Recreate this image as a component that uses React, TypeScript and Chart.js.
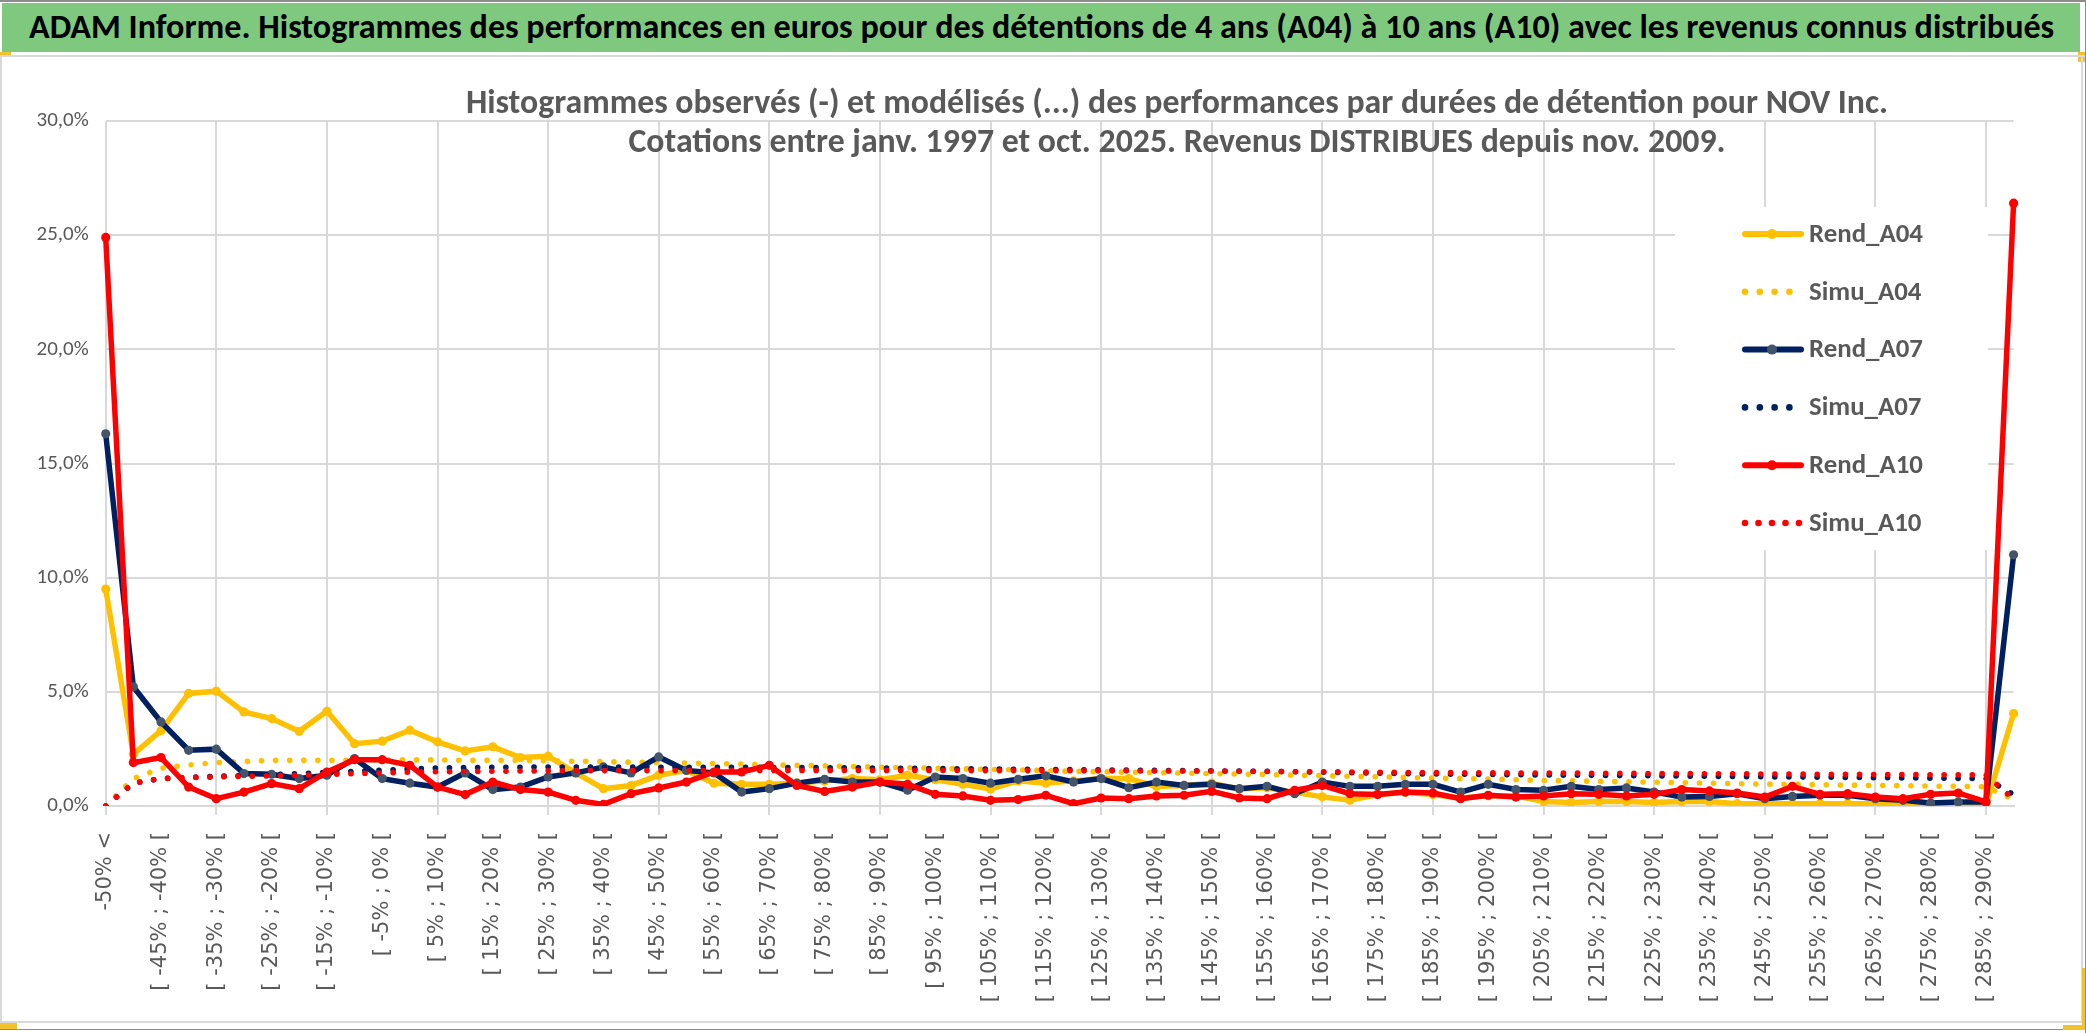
import React, { useEffect, useRef, useMemo } from 'react';
import { Chart, registerables } from 'chart.js';

Chart.register(...registerables);

const CATEGORIES = [
  '-50% <',
  '[ -50% ; -45% [', '[ -45% ; -40% [', '[ -40% ; -35% [', '[ -35% ; -30% [', '[ -30% ; -25% [',
  '[ -25% ; -20% [', '[ -20% ; -15% [', '[ -15% ; -10% [', '[ -10% ; -5% [', '[ -5% ; 0% [',
  '[ 0% ; 5% [', '[ 5% ; 10% [', '[ 10% ; 15% [', '[ 15% ; 20% [', '[ 20% ; 25% [',
  '[ 25% ; 30% [', '[ 30% ; 35% [', '[ 35% ; 40% [', '[ 40% ; 45% [', '[ 45% ; 50% [',
  '[ 50% ; 55% [', '[ 55% ; 60% [', '[ 60% ; 65% [', '[ 65% ; 70% [', '[ 70% ; 75% [',
  '[ 75% ; 80% [', '[ 80% ; 85% [', '[ 85% ; 90% [', '[ 90% ; 95% [', '[ 95% ; 100% [',
  '[ 100% ; 105% [', '[ 105% ; 110% [', '[ 110% ; 115% [', '[ 115% ; 120% [', '[ 120% ; 125% [',
  '[ 125% ; 130% [', '[ 130% ; 135% [', '[ 135% ; 140% [', '[ 140% ; 145% [', '[ 145% ; 150% [',
  '[ 150% ; 155% [', '[ 155% ; 160% [', '[ 160% ; 165% [', '[ 165% ; 170% [', '[ 170% ; 175% [',
  '[ 175% ; 180% [', '[ 180% ; 185% [', '[ 185% ; 190% [', '[ 190% ; 195% [', '[ 195% ; 200% [',
  '[ 200% ; 205% [', '[ 205% ; 210% [', '[ 210% ; 215% [', '[ 215% ; 220% [', '[ 220% ; 225% [',
  '[ 225% ; 230% [', '[ 230% ; 235% [', '[ 235% ; 240% [', '[ 240% ; 245% [', '[ 245% ; 250% [',
  '[ 250% ; 255% [', '[ 255% ; 260% [', '[ 260% ; 265% [', '[ 265% ; 270% [', '[ 270% ; 275% [',
  '[ 275% ; 280% [', '[ 280% ; 285% [', '[ 285% ; 290% [', '> 290%',
];

const REND_A04 = [
  9.5, 2.27, 3.3, 4.93, 5.03, 4.12, 3.83, 3.27, 4.15, 2.73,
  2.84, 3.32, 2.81, 2.41, 2.59, 2.12, 2.18, 1.45, 0.76, 0.9,
  1.35, 1.56, 1.0, 0.95, 0.95, 1.0, 1.1, 1.2, 1.15, 1.35,
  1.15, 0.95, 0.75, 1.1, 1.0, 1.1, 1.2, 1.2, 0.85, 0.9,
  1.0, 0.75, 0.8, 0.6, 0.4, 0.25, 0.5, 0.6, 0.5, 0.35,
  0.45, 0.45, 0.2, 0.15, 0.2, 0.2, 0.15, 0.2, 0.2, 0.1,
  0.1, 0.1, 0.1, 0.1, 0.1, 0.05, 0.1, 0.05, 0.03, 4.05,
];

const SIMU_A04 = [
  0.0, 1.2, 1.65, 1.8, 1.9, 1.95, 2.0, 2.0, 2.0, 2.0,
  2.02, 2.02, 2.02, 2.0, 2.0, 2.0, 1.98, 1.96, 1.94, 1.92,
  1.9, 1.88, 1.86, 1.84, 1.8, 1.78, 1.76, 1.73, 1.7, 1.68,
  1.65, 1.63, 1.6, 1.58, 1.55, 1.52, 1.5, 1.48, 1.46, 1.44,
  1.42, 1.4, 1.38, 1.35, 1.33, 1.3, 1.28, 1.25, 1.22, 1.2,
  1.18, 1.15, 1.12, 1.1, 1.08, 1.06, 1.04, 1.02, 1.0, 0.98,
  0.96, 0.95, 0.93, 0.92, 0.9, 0.89, 0.87, 0.86, 0.84, 0.3,
];

const REND_A07 = [
  16.3, 5.22, 3.68, 2.44, 2.49, 1.42, 1.39, 1.2, 1.35, 2.08,
  1.2, 1.0, 0.83, 1.45, 0.72, 0.83, 1.27, 1.45, 1.71, 1.45,
  2.15, 1.56, 1.45, 0.61, 0.76, 1.0, 1.17, 1.05, 1.05, 0.69,
  1.27, 1.2, 1.0, 1.17, 1.32, 1.05, 1.2, 0.8, 1.05, 0.9,
  0.95, 0.76, 0.86, 0.54, 1.05, 0.86, 0.86, 0.95, 0.95, 0.61,
  0.95, 0.72, 0.69, 0.86, 0.72, 0.79, 0.61, 0.39, 0.42, 0.54,
  0.32, 0.42, 0.47, 0.47, 0.32, 0.25, 0.13, 0.18, 0.18, 11.0,
];

const SIMU_A07 = [
  0.0, 1.0, 1.2, 1.25, 1.3, 1.33, 1.37, 1.42, 1.47, 1.52,
  1.57, 1.62, 1.66, 1.68, 1.7, 1.7, 1.71, 1.71, 1.71, 1.71,
  1.7, 1.7, 1.7, 1.69, 1.69, 1.68, 1.68, 1.67, 1.66, 1.65,
  1.64, 1.63, 1.62, 1.61, 1.6, 1.59, 1.58, 1.57, 1.56, 1.55,
  1.54, 1.53, 1.52, 1.5, 1.48, 1.46, 1.44, 1.42, 1.4, 1.39,
  1.38, 1.37, 1.36, 1.35, 1.34, 1.33, 1.32, 1.31, 1.3, 1.29,
  1.28, 1.27, 1.26, 1.25, 1.24, 1.23, 1.22, 1.21, 1.2, 0.5,
];

const REND_A10 = [
  24.9, 1.9, 2.12, 0.83, 0.32, 0.61, 0.98, 0.76, 1.49, 2.03,
  2.03, 1.78, 0.83, 0.5, 1.05, 0.72, 0.61, 0.25, 0.07, 0.54,
  0.79, 1.05, 1.49, 1.49, 1.78, 0.9, 0.64, 0.83, 1.05, 0.95,
  0.51, 0.44, 0.25, 0.28, 0.47, 0.1, 0.35, 0.32, 0.44, 0.47,
  0.64, 0.35, 0.32, 0.69, 0.9, 0.54, 0.5, 0.61, 0.57, 0.32,
  0.47, 0.39, 0.44, 0.54, 0.51, 0.44, 0.51, 0.72, 0.66, 0.57,
  0.39, 0.86, 0.51, 0.54, 0.39, 0.32, 0.51, 0.57, 0.18, 26.4,
];

const SIMU_A10 = [
  0.0, 1.0, 1.2, 1.25, 1.27, 1.3, 1.32, 1.35, 1.38, 1.42,
  1.45, 1.48, 1.5, 1.51, 1.52, 1.53, 1.54, 1.55, 1.55, 1.55,
  1.55, 1.55, 1.56, 1.56, 1.56, 1.56, 1.56, 1.56, 1.56, 1.56,
  1.56, 1.55, 1.55, 1.55, 1.55, 1.54, 1.54, 1.54, 1.53, 1.53,
  1.53, 1.52, 1.51, 1.5, 1.5, 1.49, 1.48, 1.47, 1.46, 1.46,
  1.45, 1.45, 1.44, 1.44, 1.43, 1.43, 1.42, 1.42, 1.41, 1.41,
  1.4, 1.4, 1.39, 1.39, 1.38, 1.38, 1.37, 1.37, 1.36, 0.3,
];

const Y_TICKS = [0, 5, 10, 15, 20, 25, 30];

const HEADER_TEXT =
  'ADAM Informe. Histogrammes des performances en euros pour des détentions de 4 ans (A04) à 10 ans (A10) avec les revenus connus distribués';
const TITLE_LINES = [
  'Histogrammes observés (-) et modélisés (...) des performances par durées de détention pour NOV Inc.',
  'Cotations entre janv. 1997 et oct. 2025. Revenus DISTRIBUES depuis nov. 2009.',
];

const SERIES_NAMES = ['Rend_A04', 'Simu_A04', 'Rend_A07', 'Simu_A07', 'Rend_A10', 'Simu_A10'];

const YELLOW = '#FFC000';
const NAVY = '#002060';
const NAVY_MARK = '#44546A';
const RED = '#FF0000';
const TEXT_GRAY = '#595959';
const GRID = '#D9D9D9';
const NARROW = "'Liberation Sans Narrow', Carlito, 'DejaVu Sans Condensed', 'Open Sans', sans-serif";

function fitSize(ctx: CanvasRenderingContext2D, text: string, weight: string, family: string, target: number) {
  ctx.font = `${weight} 100px ${family}`;
  const w = ctx.measureText(text).width;
  return (100 * target) / w;
}

const titlePlugin = {
  id: 'customTitle',
  afterDraw(chart: any) {
    const ctx = chart.ctx as CanvasRenderingContext2D;
    ctx.save();
    const size = fitSize(ctx, TITLE_LINES[0], 'bold', NARROW, 1423);
    ctx.font = `bold ${size}px ${NARROW}`;
    ctx.fillStyle = TEXT_GRAY;
    ctx.textAlign = 'center';
    ctx.textBaseline = 'middle';
    ctx.fillText(TITLE_LINES[0], 1177, 47);
    ctx.fillText(TITLE_LINES[1], 1177, 86);
    ctx.restore();
  },
};

const legendPlugin = {
  id: 'customLegend',
  afterDraw(chart: any) {
    const ctx = chart.ctx as CanvasRenderingContext2D;
    ctx.save();
    ctx.fillStyle = '#ffffff';
    ctx.fillRect(1675, 149, 313, 343);
    const size = fitSize(ctx, 'Rend_A04', 'bold', NARROW, 114);
    const colors = [YELLOW, YELLOW, NAVY, NAVY, RED, RED];
    const marks = [YELLOW, YELLOW, NAVY_MARK, NAVY, RED, RED];
    SERIES_NAMES.forEach((name, i) => {
      const y = 176 + i * 57.8;
      if (i % 2 === 0) {
        ctx.strokeStyle = colors[i];
        ctx.lineWidth = 6;
        ctx.lineCap = 'round';
        ctx.beginPath();
        ctx.moveTo(1745, y);
        ctx.lineTo(1801, y);
        ctx.stroke();
        ctx.fillStyle = marks[i];
        ctx.beginPath();
        ctx.arc(1772, y, 5, 0, Math.PI * 2);
        ctx.fill();
      } else {
        ctx.fillStyle = colors[i];
        const n = i === 5 ? 5 : 4;
        const step = i === 5 ? 13.5 : 14.8;
        for (let k = 0; k < n; k++) {
          ctx.beginPath();
          ctx.arc(1745 + k * step, y, 3.3, 0, Math.PI * 2);
          ctx.fill();
        }
      }
      ctx.font = `bold ${size}px ${NARROW}`;
      ctx.fillStyle = TEXT_GRAY;
      ctx.textAlign = 'left';
      ctx.textBaseline = 'middle';
      ctx.fillText(name, 1809, y + 1);
    });
    ctx.restore();
  },
};

function rendDataset(label: string, data: number[], color: string, mark: string, order: number) {
  return {
    label,
    data,
    borderColor: color,
    backgroundColor: mark,
    borderWidth: 5.5,
    pointRadius: 4.6,
    pointHoverRadius: 4.6,
    pointBackgroundColor: mark,
    pointBorderWidth: 0,
    pointBorderColor: mark,
    tension: 0,
    order,
  };
}

function simuDataset(label: string, data: number[], color: string, order: number) {
  return {
    label,
    data,
    borderColor: color,
    backgroundColor: color,
    borderWidth: 5.6,
    borderDash: [0.1, 14],
    borderCapStyle: 'round',
    pointRadius: 0,
    pointHoverRadius: 0,
    tension: 0,
    order,
  };
}

function ChartCanvas() {
  const ref = useRef<HTMLCanvasElement | null>(null);
  useEffect(() => {
    if (!ref.current) return;
    const chart = new Chart(ref.current, {
      type: 'line',
      data: {
        labels: CATEGORIES,
        datasets: [
          rendDataset(SERIES_NAMES[0], REND_A04, YELLOW, YELLOW, 5),
          simuDataset(SERIES_NAMES[1], SIMU_A04, YELLOW, 4),
          rendDataset(SERIES_NAMES[2], REND_A07, NAVY, NAVY_MARK, 3),
          simuDataset(SERIES_NAMES[3], SIMU_A07, NAVY, 2),
          rendDataset(SERIES_NAMES[4], REND_A10, RED, RED, 1),
          simuDataset(SERIES_NAMES[5], SIMU_A10, RED, 0),
        ] as any,
      },
      options: {
        animation: false,
        responsive: false,
        maintainAspectRatio: false,
        layout: { padding: { top: 63, left: 15.7, right: 72.4, bottom: 0 } },
        plugins: {
          legend: { display: false },
          title: { display: false },
          tooltip: { enabled: false },
        },
        events: [],
        scales: {
          x: {
            type: 'category',
            offset: false,
            grid: {
              color: (c: any) => (c.index % 4 === 0 ? GRID : 'rgba(0,0,0,0)'),
              lineWidth: 2,
              drawTicks: true,
              tickLength: 9,
            },
            border: { color: GRID, width: 2 },
            ticks: {
              autoSkip: false,
              maxRotation: 90,
              minRotation: 90,
              padding: 17,
              color: TEXT_GRAY,
              font: { family: "'DejaVu Sans'", size: 21 },
              callback: (_v: any, i: number) => (i % 2 === 0 ? CATEGORIES[i] : ''),
            },
            afterFit: (s: any) => {
              s.height = 216;
            },
          },
          y: {
            type: 'linear',
            min: Y_TICKS[0],
            max: Y_TICKS[Y_TICKS.length - 1],
            grid: { color: GRID, lineWidth: 2, drawTicks: false },
            border: { display: false },
            ticks: {
              stepSize: Y_TICKS[1] - Y_TICKS[0],
              padding: 17,
              color: TEXT_GRAY,
              font: { family: NARROW, size: 21 },
              callback: (v: any) => Number(v).toFixed(1).replace('.', ',') + '%',
            },
            afterFit: (s: any) => {
              s.width = 90;
            },
          },
        },
      } as any,
      plugins: [titlePlugin, legendPlugin],
    });
    return () => chart.destroy();
  }, []);
  return (
    <canvas
      ref={ref}
      width={2086}
      height={964}
      style={{ position: 'absolute', left: 0, top: 58, width: 2086, height: 964 }}
    />
  );
}

export default function App() {
  const headerSize = useMemo(() => {
    const c = document.createElement('canvas');
    const ctx = c.getContext('2d');
    if (!ctx) return 31;
    return fitSize(ctx, HEADER_TEXT, 'bold', NARROW, 2026);
  }, []);
  return (
    <div
      style={{
        position: 'fixed',
        left: 0,
        top: 0,
        width: 2086,
        height: 1033,
        background: '#ffffff',
        overflow: 'hidden',
      }}
    >
      <div style={{ position: 'absolute', left: 0, top: 0, width: 2086, height: 2, background: '#8c8c8c' }} />
      <div
        style={{
          position: 'absolute',
          left: 2,
          top: 3,
          width: 2078,
          height: 49,
          background: '#7FC97F',
          display: 'flex',
          alignItems: 'center',
        }}
      >
        <span
          style={{
            marginLeft: 27,
            fontFamily: NARROW,
            fontWeight: 'bold',
            fontSize: headerSize,
            color: '#000000',
            whiteSpace: 'nowrap',
            lineHeight: 1,
          }}
        >
          {HEADER_TEXT}
        </span>
      </div>
      <div style={{ position: 'absolute', left: 0, top: 52, width: 11, height: 3, background: '#F2C12E' }} />
      <div style={{ position: 'absolute', left: 2078, top: 52, width: 8, height: 10, background: '#F2C12E' }} />
      <div style={{ position: 'absolute', left: 0, top: 55, width: 2086, height: 2, background: GRID }} />
      <ChartCanvas />
      <div style={{ position: 'absolute', left: 0, top: 57, width: 2, height: 966, background: GRID }} />
      <div style={{ position: 'absolute', left: 2081, top: 57, width: 2, height: 966, background: GRID }} />
      <div style={{ position: 'absolute', left: 0, top: 1021, width: 2083, height: 2, background: GRID }} />
      <div style={{ position: 'absolute', left: 0, top: 1029, width: 2086, height: 1, background: '#8c8c8c' }} />
      <div style={{ position: 'absolute', left: 2085, top: 0, width: 1, height: 1033, background: '#8c8c8c' }} />
      <div style={{ position: 'absolute', left: 0, top: 1023, width: 17, height: 6, background: '#F2C12E' }} />
      <div style={{ position: 'absolute', left: 2082, top: 968, width: 3, height: 62, background: '#F2C12E' }} />
      <div style={{ position: 'absolute', left: 2063, top: 1025, width: 22, height: 5, background: '#F2C12E' }} />
    </div>
  );
}
